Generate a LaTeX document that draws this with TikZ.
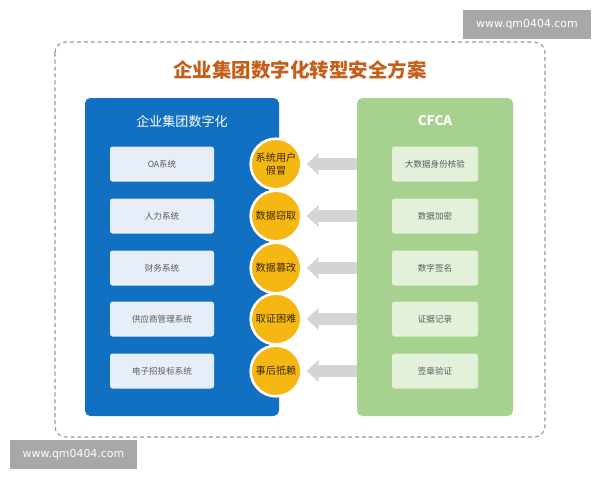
\documentclass[tikz,border=0pt]{standalone}
\usepackage{fontspec}
\newfontfamily\cjk{Noto Sans CJK SC}
\newfontfamily\wmfont{DejaVu Sans}
\usetikzlibrary{arrows.meta}
\definecolor{bluepanel}{HTML}{1170C2}
\definecolor{blueinner}{HTML}{E8EEF7}
\definecolor{greenpanel}{HTML}{A7D18F}
\definecolor{greeninner}{HTML}{E3F0DA}
\definecolor{goldc}{HTML}{F5B711}
\definecolor{arrowgray}{HTML}{D4D4D4}
\definecolor{framec}{HTML}{A89486}
\definecolor{titlec}{HTML}{C4601C}
\definecolor{boxtext}{HTML}{5A5A5A}
\definecolor{circtext}{HTML}{3A2800}
\definecolor{wmgray}{HTML}{A8A8A8}
\tikzset{
  panel/.style={rounded corners=4pt, minimum height=238.5pt, inner sep=0pt},
  lbox/.style={fill=blueinner, rounded corners=2pt, minimum width=78pt, minimum height=26.25pt, inner sep=0pt, text=boxtext, font=\cjk\fontsize{6.4pt}{7.5pt}\selectfont},
  rbox/.style={fill=greeninner, rounded corners=2pt, minimum width=64.5pt, minimum height=26.25pt, inner sep=0pt, text=boxtext, font=\cjk\fontsize{6.4pt}{7.5pt}\selectfont},
  threat/.style={circle, fill=goldc, draw=white, line width=1.9pt, minimum size=38pt, inner sep=0pt, align=center, text=circtext, font=\cjk\fontsize{7.6pt}{9.5pt}\selectfont},
  blockarrow/.style={draw=arrowgray, line width=8.5pt, -{Triangle[length=9pt 0 1, width=16pt 0 1]}, shorten >=3pt},
  wmark/.style={fill=wmgray, text=white, inner sep=0pt, font=\wmfont\fontsize{8.2pt}{10pt}\selectfont},
}
\begin{document}
\begin{tikzpicture}[x=0.75pt, y=-0.75pt]
\useasboundingbox (0,0) rectangle (600,480);
\fill[white] (0,0) rectangle (600,480);
% dashed frame
\draw[framec, line width=0.8pt, dash pattern=on 3pt off 2.2pt, rounded corners=8pt] (55,42) rectangle (545,437);
% title
\node[text=titlec, font=\cjk\bfseries\fontsize{14.6pt}{17pt}\selectfont] (title) at (300,70) {企业集团数字化转型安全方案};
% panels
\node[panel, fill=bluepanel, minimum width=145.5pt] (blue) at (182,257) {};
\node[panel, fill=greenpanel, minimum width=117pt] (green) at (435,257) {};
\node[text=white, font=\cjk\fontsize{9.8pt}{12pt}\selectfont] (bluetitle) at (182,121) {企业集团数字化};
\node[text=white, font=\cjk\bfseries\fontsize{10pt}{12pt}\selectfont] (greentitle) at (435,121) {CFCA};
% left boxes
\node[lbox] (l1) at (162,164) {OA系统};
\node[lbox] (l2) at (162,216) {人力系统};
\node[lbox] (l3) at (162,268) {财务系统};
\node[lbox] (l4) at (162,319) {供应商管理系统};
\node[lbox] (l5) at (162,371) {电子招投标系统};
% right boxes
\node[rbox] (r1) at (435,164) {大数据身份核验};
\node[rbox] (r2) at (435,216) {数据加密};
\node[rbox] (r3) at (435,268) {数字签名};
\node[rbox] (r4) at (435,319) {证据记录};
\node[rbox] (r5) at (435,371) {签章验证};
% threat circles
\node[threat] (c1) at (276,164) {系统用户\\假冒};
\node[threat] (c2) at (276,216) {数据窃取};
\node[threat] (c3) at (276,268) {数据篡改};
\node[threat] (c4) at (276,319) {取证困难};
\node[threat] (c5) at (276,371) {事后抵赖};
% arrows
\foreach \i in {1,...,5} {
  \draw[blockarrow] (green.west |- c\i) -- (c\i.east);
}
% watermarks
\node[wmark, minimum width=96pt, minimum height=21.75pt] (wm1) at (527,24.5) {www.qm0404.com};
\node[wmark, minimum width=95pt, minimum height=22pt] (wm2) at (73.5,454.5) {www.qm0404.com};
\end{tikzpicture}
\end{document}
